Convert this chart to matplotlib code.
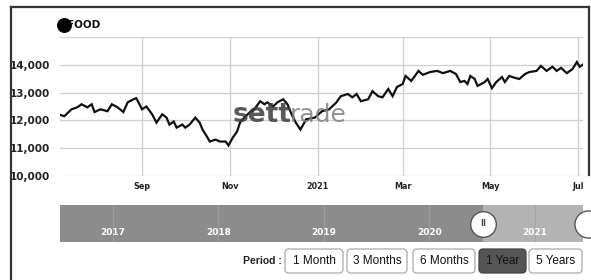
import matplotlib
matplotlib.use("Agg")
import matplotlib.pyplot as plt
from matplotlib.patches import FancyBboxPatch, Rectangle
import pandas as pd

# ---------------- data ----------------
dates = [
    "2020-07-06", "2020-07-09", "2020-07-12", "2020-07-14", "2020-07-18", "2020-07-21",
    "2020-07-25", "2020-07-28", "2020-07-30", "2020-08-03", "2020-08-08", "2020-08-11",
    "2020-08-15", "2020-08-19", "2020-08-22", "2020-08-26", "2020-08-28", "2020-09-01",
    "2020-09-04", "2020-09-08", "2020-09-11", "2020-09-15", "2020-09-18", "2020-09-20",
    "2020-09-23", "2020-09-25", "2020-09-29", "2020-10-01", "2020-10-04", "2020-10-08",
    "2020-10-11", "2020-10-13", "2020-10-16", "2020-10-18", "2020-10-22", "2020-10-25",
    "2020-10-29", "2020-10-31", "2020-11-03", "2020-11-06", "2020-11-08", "2020-11-11",
    "2020-11-15", "2020-11-18", "2020-11-22", "2020-11-25", "2020-11-27", "2020-12-01",
    "2020-12-04", "2020-12-08", "2020-12-11", "2020-12-14", "2020-12-17", "2020-12-20",
    "2020-12-24", "2020-12-30", "2021-01-04", "2021-01-09", "2021-01-14", "2021-01-17",
    "2021-01-22", "2021-01-25", "2021-01-28", "2021-01-31", "2021-02-05", "2021-02-08",
    "2021-02-12", "2021-02-15", "2021-02-19", "2021-02-22", "2021-02-25", "2021-03-01",
    "2021-03-03", "2021-03-07", "2021-03-12", "2021-03-15", "2021-03-20", "2021-03-25",
    "2021-03-29", "2021-04-03", "2021-04-07", "2021-04-10", "2021-04-13", "2021-04-15",
    "2021-04-17", "2021-04-20", "2021-04-22", "2021-04-27", "2021-04-29", "2021-05-02",
    "2021-05-05", "2021-05-09", "2021-05-11", "2021-05-14", "2021-05-18", "2021-05-21",
    "2021-05-25", "2021-05-28", "2021-06-02", "2021-06-05", "2021-06-09", "2021-06-13",
    "2021-06-16", "2021-06-19", "2021-06-23", "2021-06-27", "2021-06-30", "2021-07-02",
    "2021-07-04",
]
food_index = [
    12200, 12150, 12300, 12400, 12470, 12580,
    12470, 12580, 12300, 12400, 12330, 12580,
    12470, 12300, 12650, 12760, 12800, 12400,
    12500, 12220, 11920, 12220, 12100, 11850,
    11960, 11740, 11850, 11740, 11850, 12100,
    11920, 11670, 11420, 11240, 11310, 11240,
    11240, 11100, 11380, 11600, 11920, 12100,
    12300, 12400, 12690, 12580, 12650, 12500,
    12650, 12760, 12580, 12200, 11900, 11670,
    12040, 12100, 12330, 12400, 12650, 12870,
    12950, 12830, 12950, 12690, 12760, 13050,
    12870, 12830, 13130, 12870, 13200, 13310,
    13600, 13420, 13780, 13640, 13740, 13780,
    13700, 13780, 13670, 13380, 13420, 13310,
    13600, 13490, 13240, 13380, 13490, 13160,
    13380, 13560, 13380, 13600, 13530, 13490,
    13670, 13740, 13780, 13960, 13780, 13930,
    13780, 13890, 13700, 13850, 14100, 13930,
    14000,
]
series_name = "FOOD"
y_ticks = [10000, 11000, 12000, 13000, 14000, 15000]
y_tick_labels = ["10,000", "11,000", "12,000", "13,000", "14,000", ""]
x_tick_dates = ["2020-09-01", "2020-11-01", "2021-01-01", "2021-03-01", "2021-05-01", "2021-07-01"]
x_tick_labels = ["Sep", "Nov", "2021", "Mar", "May", "Jul"]
nav_years = [2017, 2018, 2019, 2020, 2021]
nav_range = (2016.5, 2021.455)
nav_selected_start = 2020.51
periods = ["1 Month", "3 Months", "6 Months", "1 Year", "5 Years"]
active_period = "1 Year"

# ---------------- figure ----------------
W, H = 591, 280
fig = plt.figure(figsize=(W / 100, H / 100), dpi=100)
fig.patch.set_facecolor("white")

def fx(px):
    return px / W

def fy(py):
    return 1 - py / H

# main chart
ax = fig.add_axes([fx(60), fy(176), fx(583) - fx(60), fy(37) - fy(176)])
x = pd.to_datetime(dates)
ax.plot(x, food_index, color="#111111", lw=1.6, zorder=3, solid_joinstyle="miter")
ax.set_ylim(10000, 15000)
ax.set_xlim(pd.Timestamp("2020-07-06"), pd.Timestamp("2021-07-04 06:00"))
ax.set_yticks(y_ticks)
ax.set_yticklabels(y_tick_labels, fontsize=7.5, fontweight="bold", color="#222222",
                   family="DejaVu Sans")
ax.set_xticks(pd.to_datetime(x_tick_dates))
ax.set_xticklabels(x_tick_labels, fontsize=5.8, fontweight="bold", color="#222222",
                   family="DejaVu Sans")
ax.tick_params(length=0, pad=4)
ax.tick_params(axis="y", pad=7)
ax.grid(True, color="#cfcfcf", lw=0.9)
for s in ax.spines.values():
    s.set_visible(False)
ax.set_axisbelow(True)

# navigator (range slider)
nav = fig.add_axes([fx(60), fy(242), fx(583) - fx(60), fy(205) - fy(242)])
nav.set_xlim(*nav_range)
nav.set_ylim(0, 1)
nav.axis("off")
nav.add_patch(Rectangle((nav_range[0], 0), nav_selected_start - nav_range[0], 1,
                        facecolor="#8c8c8c", edgecolor="none"))
nav.add_patch(Rectangle((nav_selected_start, 0), nav_range[1] - nav_selected_start, 1,
                        facecolor="#b3b3b3", edgecolor="none"))
for yr in nav_years:
    nav.axvline(yr, color="#a0a0a0", lw=0.6)
    nav.text(yr, 0.27, str(yr), color="white", fontsize=6.5, fontweight="bold",
             ha="center", va="center", family="DejaVu Sans")
nav.scatter([nav_selected_start], [0.5], s=340, facecolor="white", edgecolor="#555555",
            lw=1.0, zorder=5, clip_on=False)
nav.text(nav_selected_start, 0.5, "II", fontsize=6, ha="center", va="center",
         color="#444444", fontweight="bold", zorder=6)
nav.scatter([nav_range[1] + 0.05], [0.5], s=380, facecolor="white", edgecolor="#555555",
            lw=1.0, zorder=5, clip_on=False)

# overlay in pixel coordinates for frame, legend, watermark, buttons
ov = fig.add_axes([0, 0, 1, 1], facecolor="none")
ov.set_xlim(0, W)
ov.set_ylim(H, 0)
ov.axis("off")

# frame
ov.plot([11, 11], [7, 280], color="#333333", lw=1.6)
ov.plot([11, 589], [7, 7], color="#333333", lw=1.6)
ov.plot([589, 589], [7, 175], color="#333333", lw=1.6)

# legend
ov.scatter([63.5], [25], s=95, color="black", zorder=5)
ov.text(67, 25.5, series_name, fontsize=7.5, fontweight="bold", va="center", ha="left",
        family="DejaVu Sans", color="#111111")

# watermark
ov.text(291, 122, "sett", fontsize=19, fontweight="bold", color="#3c3c3c", alpha=0.85,
        ha="right", va="baseline", family="DejaVu Sans", zorder=6)
ov.text(290, 122, "rade", fontsize=18, color="#808080", alpha=0.85,
        ha="left", va="baseline", family="DejaVu Sans", zorder=6)

# period buttons
ov.text(282, 261, "Period :", fontsize=7.5, fontweight="bold", ha="right", va="center",
        family="Liberation Sans", color="#222222")
btn_x = [(285, 343), (347, 407), (413, 475), (479, 526), (529, 582)]
for (x0, x1), label in zip(btn_x, periods):
    active = label == active_period
    ov.add_patch(FancyBboxPatch((x0, 249), x1 - x0, 24,
                                boxstyle="round,pad=0,rounding_size=4",
                                facecolor="#555555" if active else "white",
                                edgecolor="#444444" if active else "#aaaaaa", lw=0.9))
    ov.text((x0 + x1) / 2, 261.5, label, fontsize=8.5, ha="center", va="center",
            family="Liberation Sans", color="#111111")

fig.savefig("out.png", dpi=100, facecolor="white")
